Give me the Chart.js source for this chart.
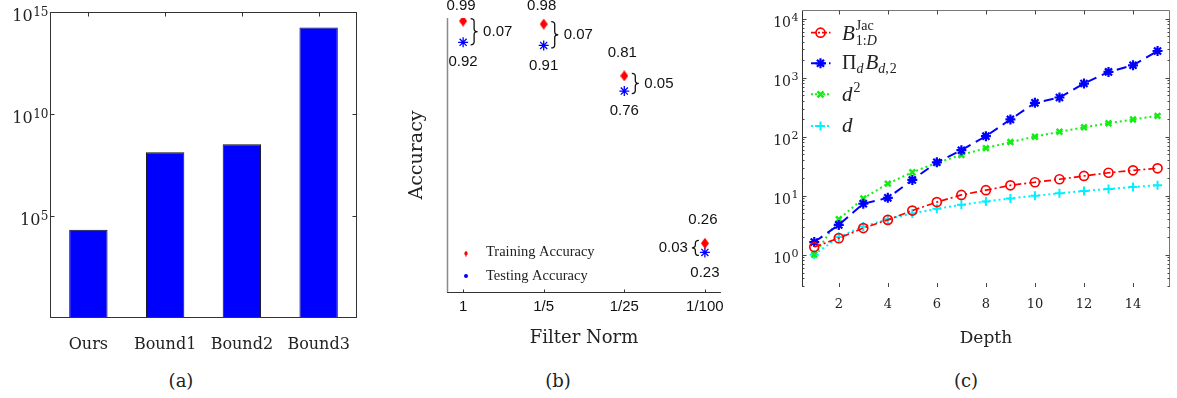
<!DOCTYPE html>
<html><head><meta charset="utf-8">
<script src="https://cdn.jsdelivr.net/npm/chart.js@4.4.0/dist/chart.umd.min.js"></script>
<style>
html,body{margin:0;padding:0;background:#fff;width:1177px;height:398px;overflow:hidden;position:relative;}
canvas{position:absolute;top:0;}
.cap{position:absolute;top:380px;font-family:"DejaVu Serif",serif;font-size:18px;color:#222;transform:translate(-50%,-50%);white-space:nowrap;}
</style></head><body>
<canvas id="ca" width="385" height="360" style="left:0px;width:385px;height:360px"></canvas>
<canvas id="cb" width="385" height="360" style="left:385px;width:385px;height:360px"></canvas>
<canvas id="cc" width="407" height="360" style="left:770px;width:407px;height:360px"></canvas>
<div class="cap" style="left:181px">(a)</div>
<div class="cap" style="left:558px">(b)</div>
<div class="cap" style="left:966px">(c)</div>
<script>
// ---------- Panel (a) data ----------
const boundCategories = ['Ours', 'Bound1', 'Bound2', 'Bound3'];
const boundValues = [2.1e4, 1.32e8, 3.26e8, 1.73e14];
const boundTicks = [1e5, 1e10, 1e15];

// ---------- Panel (b) data ----------
const normLabels = ['1', '1/5', '1/25', '1/100'];
const trainAcc = [0.99, 0.98, 0.81, 0.26];
const testAcc = [0.92, 0.91, 0.76, 0.23];
const accGap = ['0.07', '0.07', '0.05', '0.03'];

// ---------- Panel (c) data ----------
const depth = [1, 2, 3, 4, 5, 6, 7, 8, 9, 10, 11, 12, 13, 14, 15];
const bJac = [1.35, 1.91, 2.83, 3.9, 5.6, 7.8, 10.3, 12.4, 15.0, 16.9, 19.0, 21.6, 24.5, 26.9, 29.1];
const prodB = [1.64, 3.2, 7.3, 9.2, 18.5, 36.8, 59, 102, 196, 374, 461, 795, 1250, 1620, 2830];
const depthSq = [1, 4, 9, 16, 25, 36, 49, 64, 81, 100, 121, 144, 169, 196, 225];
const depthLin = [1, 2, 3, 4, 5, 6, 7, 8, 9, 10, 11, 12, 13, 14, 15];
const depthTicks = [2, 4, 6, 8, 10, 12, 14];
const decadeTicks = [1, 10, 100, 1000, 10000];

Chart.defaults.font.family = '"DejaVu Serif", serif';
Chart.defaults.color = '#222';

const crisp = v => Math.round(v) + 0.5;

// draws "10" with a raised exponent for every tick of a log scale
function drawPowLabels(ctx, scale, rightX, baseSize, supSize, dyBase, dySup) {
  ctx.save();
  ctx.fillStyle = '#222';
  ctx.textBaseline = 'alphabetic';
  ctx.textAlign = 'left';
  scale.ticks.forEach(t => {
    const e = String(Math.round(Math.log10(t.value)));
    const py = scale.getPixelForValue(t.value);
    ctx.font = supSize + 'px "DejaVu Serif", serif';
    const we = ctx.measureText(e).width;
    ctx.font = baseSize + 'px "DejaVu Serif", serif';
    const wb = ctx.measureText('10').width;
    const x0 = rightX - we - wb;
    ctx.fillText('10', x0, py + dyBase);
    ctx.font = supSize + 'px "DejaVu Serif", serif';
    ctx.fillText(e, x0 + wb + 0.5, py + dySup);
  });
  ctx.restore();
}

// ================= Panel (a) =================
const frameA = {
  id: 'frameA',
  afterDraw(chart) {
    const {ctx, chartArea: a, scales: {x, y}} = chart;
    ctx.save();
    ctx.strokeStyle = '#333'; ctx.lineWidth = 1;
    const L = crisp(a.left), R = crisp(a.right) - 1, T = crisp(a.top), B = crisp(a.bottom) - 1;
    ctx.strokeRect(L, T, R - L, B - T);
    ctx.beginPath();
    boundTicks.forEach(v => {
      const py = crisp(y.getPixelForValue(v));
      ctx.moveTo(L, py); ctx.lineTo(L + 4, py);
      ctx.moveTo(R, py); ctx.lineTo(R - 4, py);
    });
    boundCategories.forEach((c, i) => {
      const px = crisp(x.getPixelForValue(i));
      ctx.moveTo(px, T); ctx.lineTo(px, T + 4);
    });
    ctx.stroke();
    ctx.restore();
    drawPowLabels(ctx, y, a.left - 2, 16, 12, 9, 3.5);
  }
};

new Chart(document.getElementById('ca'), {
  type: 'bar',
  data: {
    labels: boundCategories,
    datasets: [{
      data: boundValues,
      backgroundColor: '#0000ff',
      borderColor: '#111',
      borderWidth: 1,
      barPercentage: 0.5,
      categoryPercentage: 1
    }]
  },
  options: {
    responsive: false, animation: false, devicePixelRatio: 1,
    layout: {padding: {left: 0, top: 12, right: 28, bottom: 0}},
    plugins: {legend: {display: false}, tooltip: {enabled: false}},
    scales: {
      x: {
        grid: {display: false, drawTicks: false}, border: {display: false},
        ticks: {font: {size: 16}, color: '#222', padding: 17},
        afterFit: s => { s.height = 42; }
      },
      y: {
        type: 'logarithmic', min: 1, max: 1e15,
        grid: {display: false, drawTicks: false}, border: {display: false},
        ticks: {display: false},
        afterBuildTicks: s => { s.ticks = boundTicks.map(v => ({value: v})); },
        afterFit: s => { s.width = 50; }
      }
    }
  },
  plugins: [frameA]
});

// ================= Panel (b) =================
function makeDiamond(w, h, color) {
  const c = document.createElement('canvas');
  c.width = w; c.height = h;
  const g = c.getContext('2d');
  g.fillStyle = color;
  g.beginPath();
  g.moveTo(w / 2, 0); g.lineTo(w, h / 2); g.lineTo(w / 2, h); g.lineTo(0, h / 2); g.closePath();
  g.fill();
  return c;
}
const diamondImg = makeDiamond(8, 11, '#ff0000');

function drawBrace(ctx, x, y1, y2, dir) {
  const w = 3.5 * dir, ym = (y1 + y2) / 2, r = Math.min(3, (y2 - y1) / 5);
  ctx.beginPath();
  ctx.moveTo(x - w, y1);
  ctx.quadraticCurveTo(x, y1, x, y1 + r);
  ctx.lineTo(x, ym - r);
  ctx.quadraticCurveTo(x, ym, x + w, ym);
  ctx.quadraticCurveTo(x, ym, x, ym + r);
  ctx.lineTo(x, y2 - r);
  ctx.quadraticCurveTo(x, y2, x - w, y2);
  ctx.stroke();
}

const annotB = {
  id: 'annotB',
  beforeDatasetsDraw(chart) {
    const {ctx, chartArea: a, scales: {x}} = chart;
    ctx.save();
    ctx.lineWidth = 1.5;
    ctx.strokeStyle = '#8a8a8a';
    ctx.beginPath();
    ctx.moveTo(crisp(a.left), a.top); ctx.lineTo(crisp(a.left), a.bottom);
    ctx.stroke();
    ctx.lineWidth = 1;
    ctx.strokeStyle = '#333';
    ctx.beginPath();
    ctx.moveTo(a.left, crisp(a.bottom)); ctx.lineTo(a.right, crisp(a.bottom));
    normLabels.forEach((l, i) => {
      const px = crisp(x.getPixelForValue(i + 1));
      ctx.moveTo(px, crisp(a.bottom)); ctx.lineTo(px, crisp(a.bottom) - 3);
    });
    ctx.stroke();
    ctx.restore();
  },
  afterDatasetsDraw(chart) {
    const {ctx, chartArea: a, scales: {x, y}} = chart;
    ctx.save();
    ctx.fillStyle = '#111';
    ctx.strokeStyle = '#111';
    ctx.lineWidth = 1.3;
    ctx.font = '15px "Liberation Sans", Arial, sans-serif';
    ctx.textBaseline = 'middle';
    trainAcc.forEach((v, i) => {
      const px = x.getPixelForValue(i + 1);
      const pyT = y.getPixelForValue(v);
      const pyB = y.getPixelForValue(testAcc[i]);
      const mid = (pyT + pyB) / 2;
      ctx.textAlign = 'center';
      ctx.fillText(v.toFixed(2), px - 2, Math.max(6, pyT - 23));
      ctx.fillText(testAcc[i].toFixed(2), px, pyB + 20);
      if (i < normLabels.length - 1) {
        drawBrace(ctx, px + 11, pyT - 2.5, pyB + 2.5, 1);
        ctx.textAlign = 'left';
        ctx.fillText(accGap[i], px + 20, mid);
      } else {
        drawBrace(ctx, px - 9.5, pyT - 3, pyB + 3, -1);
        ctx.textAlign = 'right';
        ctx.fillText(accGap[i], px - 17, mid);
      }
    });
    // legend
    const lx = a.left + 19, tx = a.left + 39;
    const r1 = a.bottom - 38.5, r2 = a.bottom - 16;
    ctx.drawImage(makeDiamond(4, 6, '#ff0000'), lx - 2, r1 - 3);
    ctx.fillStyle = '#0000ff';
    ctx.beginPath(); ctx.arc(lx, r2, 2, 0, Math.PI * 2); ctx.fill();
    ctx.fillStyle = '#222';
    ctx.textAlign = 'left';
    ctx.font = '14.5px "Liberation Serif", "Times New Roman", serif';
    ctx.fillText(chart.data.datasets[0].label, tx, r1 - 1);
    ctx.fillText(chart.data.datasets[1].label, tx, r2);
    ctx.restore();
  }
};

new Chart(document.getElementById('cb'), {
  type: 'scatter',
  data: {
    datasets: [
      {
        label: 'Training Accuracy',
        data: trainAcc.map((v, i) => ({x: i + 1, y: v})),
        pointStyle: diamondImg, pointRadius: 5,
        backgroundColor: '#ff0000', borderColor: '#ff0000'
      },
      {
        label: 'Testing Accuracy',
        data: testAcc.map((v, i) => ({x: i + 1, y: v})),
        pointStyle: 'star', pointRadius: 5,
        borderColor: '#0000ff', backgroundColor: '#0000ff', pointBorderWidth: 1.3
      }
    ]
  },
  options: {
    responsive: false, animation: false, devicePixelRatio: 1,
    layout: {padding: {left: 0, top: 18, right: 49, bottom: 0}},
    plugins: {legend: {display: false}, tooltip: {enabled: false}},
    scales: {
      x: {
        type: 'linear', min: 0.8, max: 4.2,
        grid: {display: false, drawTicks: false}, border: {display: false},
        ticks: {font: {family: '"Liberation Sans", Arial, sans-serif', size: 15}, color: '#111', padding: 6,
                callback: v => normLabels[Math.round(v) - 1]},
        afterBuildTicks: s => { s.ticks = normLabels.map((l, i) => ({value: i + 1})); },
        title: {display: true, text: 'Filter Norm', font: {size: 18}, color: '#222', padding: {top: 0, bottom: 11}},
        afterFit: s => { s.height = 68; }
      },
      y: {
        type: 'linear', min: 0.1, max: 1.0,
        grid: {display: false, drawTicks: false}, border: {display: false},
        ticks: {display: false},
        title: {display: true, text: 'Accuracy', font: {size: 19}, color: '#222', padding: {top: 21, bottom: 0}},
        afterFit: s => { s.width = 62; }
      }
    }
  },
  plugins: [annotB]
});

// ================= Panel (c) =================
function drawMarker(ctx, style, x, y, r, color, lw) {
  ctx.save();
  ctx.strokeStyle = color; ctx.fillStyle = color; ctx.lineWidth = lw; ctx.setLineDash([]);
  ctx.beginPath();
  if (style === 'circle') {
    ctx.arc(x, y, r, 0, Math.PI * 2);
    ctx.stroke();
  } else if (style === 'star') {
    for (let k = 0; k < 4; k++) {
      const ang = k * Math.PI / 4;
      ctx.moveTo(x - r * Math.cos(ang), y - r * Math.sin(ang));
      ctx.lineTo(x + r * Math.cos(ang), y + r * Math.sin(ang));
    }
    ctx.stroke();
  } else if (style === 'crossRot') {
    const d = r * 0.75;
    ctx.moveTo(x - d, y - d); ctx.lineTo(x + d, y + d);
    ctx.moveTo(x - d, y + d); ctx.lineTo(x + d, y - d);
    ctx.stroke();
  } else if (style === 'cross') {
    ctx.moveTo(x - r, y); ctx.lineTo(x + r, y);
    ctx.moveTo(x, y - r); ctx.lineTo(x, y + r);
    ctx.stroke();
  }
  ctx.restore();
}

function drawRich(ctx, x, baseline, parts) {
  let cx = x;
  parts.forEach(p => {
    ctx.font = (p.it ? 'italic ' : '') + p.size + 'px "Liberation Serif", "Times New Roman", serif';
    ctx.fillText(p.t, cx, baseline + (p.dy || 0));
    cx += ctx.measureText(p.t).width + (p.gap || 0);
  });
  return cx;
}

const frameC = {
  id: 'frameC',
  beforeDatasetsDraw(chart) {
    const {ctx, chartArea: a, scales: {x, y}} = chart;
    ctx.save();
    const L = crisp(a.left), R = crisp(a.right) - 1, T = crisp(a.top), B = a.bottom;
    ctx.lineWidth = 1;
    ctx.strokeStyle = '#333';
    ctx.beginPath(); ctx.moveTo(L, T); ctx.lineTo(L, B); ctx.stroke();
    ctx.strokeStyle = '#777';
    ctx.beginPath(); ctx.moveTo(L, T); ctx.lineTo(R, T); ctx.lineTo(R, B); ctx.stroke();
    ctx.strokeStyle = '#444';
    ctx.beginPath();
    decadeTicks.forEach(v => {
      const py = crisp(y.getPixelForValue(v));
      ctx.moveTo(L, py); ctx.lineTo(L + 4, py);
      ctx.moveTo(R, py); ctx.lineTo(R - 4, py);
    });
    for (let e = -1; e <= 4; e++) {
      for (let m = 2; m <= 9; m++) {
        const v = m * Math.pow(10, e);
        if (v < y.min || v > y.max) continue;
        const py = crisp(y.getPixelForValue(v));
        ctx.moveTo(L, py); ctx.lineTo(L + 2, py);
        ctx.moveTo(R, py); ctx.lineTo(R - 2, py);
      }
    }
    depthTicks.forEach(v => {
      const px = crisp(x.getPixelForValue(v));
      ctx.moveTo(px, T); ctx.lineTo(px, T + 4);
      ctx.moveTo(px, B); ctx.lineTo(px, B - 4);
    });
    ctx.stroke();
    ctx.restore();
    drawPowLabels(ctx, y, a.left - 4, 14, 11, 8, 2);
  },
  afterDraw(chart) {
    const {ctx, chartArea: a} = chart;
    const ds = chart.data.datasets;
    const rows = [22.7, 53.3, 84.3, 116];
    const x0 = a.left + 9, x1 = a.left + 28.5, xm = a.left + 18.5, tx = a.left + 40;
    ctx.save();
    ds.forEach((d, i) => {
      const yy = a.top + rows[i];
      ctx.strokeStyle = d.borderColor; ctx.lineWidth = d.borderWidth;
      ctx.setLineDash(d.legendDash);
      ctx.beginPath(); ctx.moveTo(x0, yy); ctx.lineTo(x1, yy); ctx.stroke();
      drawMarker(ctx, d.pointStyle, xm, yy, d.pointRadius, d.borderColor, d.pointBorderWidth);
    });
    ctx.fillStyle = '#222';
    ctx.textAlign = 'left'; ctx.textBaseline = 'alphabetic';
    // row 1: B^{Jac}_{1:D}
    const b1 = a.top + rows[0] + 7;
    ctx.font = 'italic 21px "Liberation Serif", "Times New Roman", serif';
    ctx.fillText('B', tx, b1);
    const sx = tx + ctx.measureText('B').width + 1;
    drawRich(ctx, sx, b1, [{t: 'Jac', size: 14, dy: -10}]);
    drawRich(ctx, sx, b1, [{t: '1:', size: 14, dy: 5}, {t: 'D', it: true, size: 14, dy: 5}]);
    // row 2: Π_d B_{d,2}
    const b2 = a.top + rows[1] + 6;
    drawRich(ctx, tx, b2, [
      {t: 'Π', size: 20},
      {t: 'd', it: true, size: 14, dy: 4, gap: 2},
      {t: 'B', it: true, size: 21},
      {t: 'd', it: true, size: 14, dy: 4},
      {t: ',', size: 14, dy: 4, gap: 1},
      {t: '2', size: 14, dy: 4}
    ]);
    // row 3: d^2
    const b3 = a.top + rows[2] + 7;
    drawRich(ctx, tx, b3, [{t: 'd', it: true, size: 21, gap: 1}, {t: '2', size: 14, dy: -9}]);
    // row 4: d
    const b4 = a.top + rows[3] + 6;
    drawRich(ctx, tx, b4, [{t: 'd', it: true, size: 21}]);
    ctx.restore();
  }
};

new Chart(document.getElementById('cc'), {
  type: 'line',
  data: {
    datasets: [
      {
        label: 'B Jac 1:D',
        data: depth.map((d, i) => ({x: d, y: bJac[i]})),
        borderColor: '#ff0000', borderWidth: 1.7, borderDash: [7, 3, 2, 3], legendDash: [5, 2, 2, 2],
        pointStyle: 'circle', pointRadius: 4.5, pointBorderWidth: 1.7,
        pointBorderColor: '#ff0000', pointBackgroundColor: 'rgba(255,255,255,0)'
      },
      {
        label: 'Π_d B_d,2',
        data: depth.map((d, i) => ({x: d, y: prodB[i]})),
        borderColor: '#0000ff', borderWidth: 2, borderDash: [10, 6], legendDash: [6, 3],
        pointStyle: 'star', pointRadius: 5, pointBorderWidth: 2.2,
        pointBorderColor: '#0000ff', pointBackgroundColor: '#0000ff'
      },
      {
        label: 'd^2',
        data: depth.map((d, i) => ({x: d, y: depthSq[i]})),
        borderColor: '#11ee11', borderWidth: 2, borderDash: [2, 3], legendDash: [2, 2],
        pointStyle: 'crossRot', pointRadius: 4, pointBorderWidth: 2.5,
        pointBorderColor: '#11ee11', pointBackgroundColor: '#11ee11'
      },
      {
        label: 'd',
        data: depth.map((d, i) => ({x: d, y: depthLin[i]})),
        borderColor: '#00f0ff', borderWidth: 2, borderDash: [2, 3], legendDash: [2, 2],
        pointStyle: 'cross', pointRadius: 4.5, pointBorderWidth: 2,
        pointBorderColor: '#00f0ff', pointBackgroundColor: '#00f0ff'
      }
    ]
  },
  options: {
    responsive: false, animation: false, devicePixelRatio: 1,
    layout: {padding: {left: 0, top: 10, right: 5, bottom: 0}},
    plugins: {legend: {display: false}, tooltip: {enabled: false}},
    elements: {line: {tension: 0, fill: false}},
    scales: {
      x: {
        type: 'linear', min: 0.5, max: 15.5,
        grid: {display: false, drawTicks: false}, border: {display: false},
        ticks: {font: {size: 13}, color: '#222', padding: 10},
        afterBuildTicks: s => { s.ticks = depthTicks.map(v => ({value: v})); },
        title: {display: true, text: 'Depth', font: {size: 17}, color: '#222', padding: {top: 0, bottom: 11}},
        afterFit: s => { s.height = 73; }
      },
      y: {
        type: 'logarithmic', min: 0.284, max: 14000,
        grid: {display: false, drawTicks: false}, border: {display: false},
        ticks: {display: false},
        afterBuildTicks: s => { s.ticks = decadeTicks.map(v => ({value: v})); },
        afterFit: s => { s.width = 32; }
      }
    }
  },
  plugins: [frameC]
});
</script>
</body></html>
